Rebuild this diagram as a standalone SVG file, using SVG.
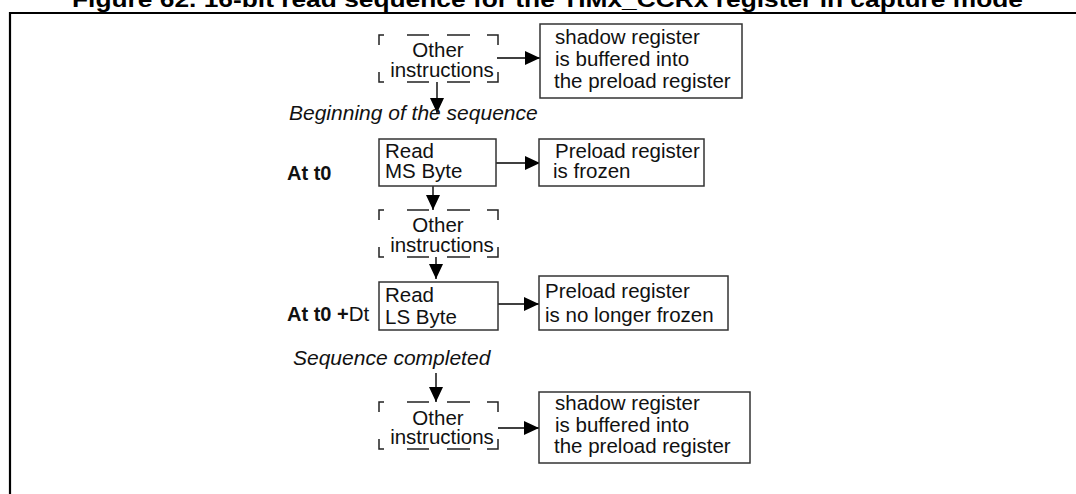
<svg xmlns="http://www.w3.org/2000/svg" width="1076" height="494" viewBox="0 0 1076 494">
<defs>
<style>
.t{font-family:"Liberation Sans",Arial,sans-serif;font-size:20.5px;fill:#111}
.i{font-style:italic;font-size:21px}
.b{font-weight:bold;font-size:20px}
.box{fill:#fff;stroke:#333;stroke-width:1.5}
.dash{fill:none;stroke:#222;stroke-width:1.5}
.line{stroke:#000;stroke-width:1.4;fill:none}
.title{font-family:"Liberation Sans",Arial,sans-serif;font-weight:bold;font-size:22px;fill:#000}
</style>
<marker id="ah" markerWidth="15" markerHeight="14" refX="15" refY="7" orient="auto" markerUnits="userSpaceOnUse">
<path d="M0,0 L15,7 L0,14 Z" fill="#000"/>
</marker>
<g id="dashbox">
<path class="dash" d="M0,10 V0 H5 M28,0 H50 M68,0 H91 M108,0 H119 V10 M0,37 V47 H5 M28,47 H50 M68,47 H91 M108,47 H119 V37"/>
</g>
</defs>
<rect width="1076" height="494" fill="#fff"/>
<text class="title" x="72" y="7" textLength="951" lengthAdjust="spacingAndGlyphs">Figure 62. 16-bit read sequence for the TIMx_CCRx register in capture mode</text>
<path d="M10,494 V13 H1076" fill="none" stroke="#000" stroke-width="2.2"/>

<g id="connectors">
<line class="line" x1="497" y1="58" x2="540" y2="58" marker-end="url(#ah)"/>
<line class="line" x1="437" y1="82" x2="437" y2="113" marker-end="url(#ah)"/>
<line class="line" x1="496" y1="163" x2="540" y2="163" marker-end="url(#ah)"/>
<line class="line" x1="433" y1="186" x2="433" y2="210" marker-end="url(#ah)"/>
<line class="line" x1="436" y1="257" x2="436" y2="279" marker-end="url(#ah)"/>
<line class="line" x1="498" y1="304" x2="539" y2="304" marker-end="url(#ah)"/>
<line class="line" x1="436" y1="373" x2="436" y2="402" marker-end="url(#ah)"/>
<line class="line" x1="498" y1="428" x2="539" y2="428" marker-end="url(#ah)"/>
</g>

<g id="other1">
<use href="#dashbox" x="379" y="35"/>
<text class="t" x="438" y="57" text-anchor="middle">Other</text>
<text class="t" x="442" y="77" text-anchor="middle">instructions</text>
</g>
<g id="shadow1">
<rect class="box" x="540" y="24" width="202" height="74"/>
<text class="t" x="555" y="44">shadow register</text>
<text class="t" x="555" y="66">is buffered into</text>
<text class="t" x="554" y="88">the preload register</text>
</g>
<text id="begin" class="t i" x="289" y="120">Beginning of the sequence</text>

<text id="at-t0" class="t b" x="287" y="180">At t0</text>
<g id="readms">
<rect class="box" x="379" y="139" width="117" height="47"/>
<text class="t" x="385" y="158">Read</text>
<text class="t" x="385" y="178">MS Byte</text>
</g>
<g id="frozen">
<rect class="box" x="539" y="139" width="165" height="47"/>
<text class="t" x="555" y="158">Preload register</text>
<text class="t" x="553" y="178">is frozen</text>
</g>

<g id="other2">
<use href="#dashbox" x="379" y="210"/>
<text class="t" x="438" y="232" text-anchor="middle">Other</text>
<text class="t" x="442" y="252" text-anchor="middle">instructions</text>
</g>

<text id="at-t0dt" class="t" x="287" y="321"><tspan class="b">At t0 +</tspan>Dt</text>
<g id="readls">
<rect class="box" x="379" y="282" width="119" height="48"/>
<text class="t" x="385" y="302">Read</text>
<text class="t" x="385" y="324">LS Byte</text>
</g>
<g id="notfrozen">
<rect class="box" x="539" y="276" width="189" height="54"/>
<text class="t" x="545" y="298">Preload register</text>
<text class="t" x="545" y="322">is no longer frozen</text>
</g>

<text id="completed" class="t i" x="293" y="365">Sequence completed</text>

<g id="other3">
<use href="#dashbox" x="379" y="402"/>
<text class="t" x="438" y="425" text-anchor="middle">Other</text>
<text class="t" x="442" y="444" text-anchor="middle">instructions</text>
</g>
<g id="shadow3">
<rect class="box" x="539" y="392" width="211" height="71"/>
<text class="t" x="555" y="410">shadow register</text>
<text class="t" x="555" y="432">is buffered into</text>
<text class="t" x="554" y="453">the preload register</text>
</g>
</svg>
